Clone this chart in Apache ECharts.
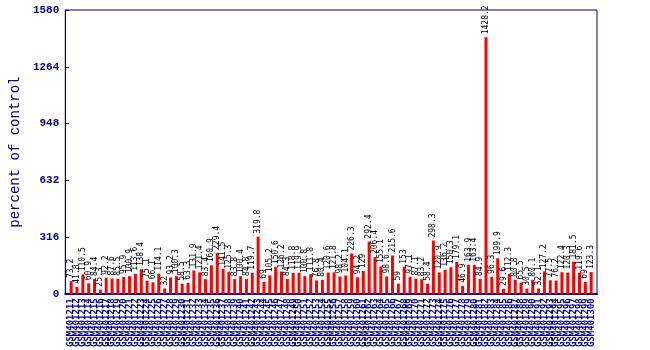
<!DOCTYPE html>
<html><head><meta charset="utf-8">
<script src="https://cdn.jsdelivr.net/npm/echarts@6/dist/echarts.min.js"></script>
<style>html,body{margin:0;padding:0;background:#fff}#c{width:650px;height:350px}</style>
</head><body><div id="c"></div>
<script>
const categories = [];
for (let i = 0; i < 90; i++) categories.push('GSM' + (401211 + i));
const values = [
73.2,41.8,110.5,60.9,84.4,25.3,92.2,87.6,85.5,95.9,
100.9,113.6,138.4,75.1,66.1,114.1,32,93.2,100.3,58.5,
63.3,131.9,121.4,83.4,160.9,229.4,141.5,125.3,83.8,100.4,
84.8,119.7,319.8,69,105.2,150.6,126.2,84.3,118.8,119.9,
100.8,111.8,76.8,80.4,120.6,121.8,98.2,104.1,226.3,94.2,
129,292.4,206.4,155.1,98.6,215.6,59,153,97.1,87.1,
83.2,58.4,298.3,120.9,136.2,150.3,179.1,46.9,163.9,163.4,
84.9,1428.2,96.3,199.9,29.6,112.3,80.8,65.5,30.5,80.1,
32.1,127.2,77.5,76.2,122.4,120.3,181.5,119.6,69,123.3
];
const yTicks = [0, 316, 632, 948, 1264, 1580];
const navy = '#000080';
const chart = echarts.init(document.getElementById('c'));
chart.setOption({
  animation: false,
  grid: {left: 52, right: 53, top: 10, bottom: 46.5, show: true, borderColor: navy, borderWidth: 1},
  xAxis: {
    type: 'value', min: 0, max: categories.length + 1, interval: 1,
    splitLine: {show: false},
    axisLine: {show: true, onZero: false, lineStyle: {color: navy, width: 2}},
    axisTick: {show: false},
    axisLabel: {
      rotate: 90, interval: 0, margin: 4, color: navy, fontSize: 9,
      fontFamily: 'DejaVu Sans Mono', fontWeight: 'bold',
      showMinLabel: true, showMaxLabel: true,
      formatter: v => (v >= 1 && v <= categories.length) ? categories[v - 1] : ''
    }
  },
  yAxis: {
    type: 'value', min: yTicks[0], max: yTicks[yTicks.length - 1], interval: 316,
    splitLine: {show: false},
    axisLine: {show: true, lineStyle: {color: navy, width: 1}},
    axisTick: {show: true, inside: true, length: 4, lineStyle: {color: navy}},
    axisLabel: {color: navy, fontSize: 11, fontWeight: 'bold', fontFamily: 'Liberation Mono', margin: 6,
      formatter: v => String(v)},
    name: 'percent of control', nameLocation: 'middle', nameGap: 36,
    nameTextStyle: {color: navy, fontSize: 14, fontFamily: 'Liberation Mono'}
  },
  series: [{
    type: 'bar', barWidth: 3,
    itemStyle: {color: '#ff0000'},
    data: values.map((v, i) => [i + 1, v]),
    label: {
      show: true, position: 'top', rotate: 90, align: 'left', verticalAlign: 'middle',
      distance: 3, fontSize: 8, fontFamily: 'DejaVu Sans Mono', color: '#000',
      formatter: p => String(p.value[1])
    }
  }]
});
</script></body></html>
